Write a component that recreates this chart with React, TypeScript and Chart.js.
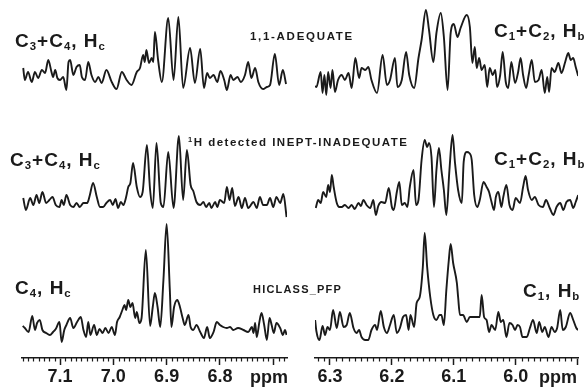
import React, { useEffect, useRef } from 'react';
import { Chart, registerables } from 'chart.js';
Chart.register(...registerables);

const INK = '#1a1a1a';
const FONT = 'Arial, "Liberation Sans", Helvetica, sans-serif';
const CANVAS_H = 392;
const PLOT_BOTTOM = 358;

// ---------- tick labels ----------
const leftTickValues = [7.1, 7.0, 6.9, 6.8, 6.7];
const leftTickLabels = ['7.1', '7.0', '6.9', '6.8', ''];
const rightTickValues = [6.3, 6.2, 6.1, 6.0, 5.9];
const rightTickLabels = ['6.3', '6.2', '6.1', '6.0', ''];

// ---------- Hc region (left panel), 1,1-ADEQUATE ----------
const adeqHcPpm = [7.169,7.166,7.160,7.153,7.147,7.141,7.134,7.128,7.122,7.116,7.113,7.109,7.105,7.100,7.094,7.088,7.084,7.081,7.075,7.069,7.063,7.059,7.053,7.047,7.041,7.034,7.028,7.022,7.013,7.003,6.994,6.984,6.975,6.966,6.956,6.950,6.944,6.941,6.938,6.933,6.928,6.925,6.922,6.916,6.909,6.897,6.887,6.878,6.869,6.856,6.847,6.837,6.830,6.824,6.819,6.812,6.805,6.799,6.792,6.787,6.780,6.775,6.767,6.761,6.753,6.747,6.741,6.734,6.728,6.719,6.712,6.706,6.697,6.689,6.682,6.676];
const adeqHcInt = [9,-3,5,-5,5,-1,7,4,17,5,0,7,-1,-3,0,-13,15,17,2,10,12,0,-3,15,2,-5,0,-6,7,-5,-12,5,-3,-8,5,9,22,15,27,14,19,15,45,17,-5,59,-3,60,-11,29,-6,28,-11,4,-1,2,-5,6,-3,-13,2,-3,0,-5,2,15,-1,9,-5,-12,-10,-8,23,-8,7,-7];

// ---------- Hc region, INEPT-INADEQUATE ----------
const ineptHcPpm = [7.169,7.164,7.156,7.150,7.144,7.139,7.133,7.126,7.120,7.114,7.108,7.101,7.097,7.093,7.088,7.081,7.075,7.069,7.063,7.056,7.049,7.044,7.038,7.031,7.025,7.019,7.013,7.006,7.001,6.996,6.991,6.986,6.981,6.976,6.972,6.968,6.963,6.956,6.950,6.945,6.937,6.931,6.926,6.919,6.911,6.906,6.897,6.887,6.877,6.869,6.862,6.855,6.850,6.844,6.837,6.831,6.826,6.820,6.816,6.809,6.805,6.800,6.792,6.787,6.782,6.777,6.772,6.765,6.759,6.753,6.747,6.737,6.731,6.725,6.719,6.712,6.706,6.700,6.694,6.687,6.681,6.675];
const ineptHcInt = [5,-7,5,-2,8,0,11,0,3,6,-2,-4,3,-2,8,-2,-4,0,-4,0,0,8,20,6,-4,-4,0,3,-2,4,-5,1,-2,6,16,20,40,16,6,11,58,13,-5,60,0,-4,51,-5,67,3,53,18,12,1,-2,1,-4,0,-5,1,-4,3,0,16,3,15,-3,6,-5,5,-5,1,-5,6,-2,-2,5,-4,6,0,9,-14];

// ---------- Hc region, HICLASS_PFP ----------
const hiclassHcPpm = [7.170,7.166,7.159,7.152,7.147,7.143,7.138,7.133,7.126,7.119,7.113,7.108,7.101,7.097,7.092,7.088,7.081,7.075,7.068,7.061,7.056,7.051,7.047,7.043,7.036,7.031,7.026,7.020,7.015,7.009,7.003,6.997,6.993,6.988,6.983,6.979,6.976,6.972,6.968,6.964,6.959,6.956,6.951,6.947,6.939,6.931,6.926,6.922,6.917,6.912,6.906,6.900,6.894,6.891,6.886,6.880,6.875,6.870,6.866,6.859,6.855,6.850,6.844,6.837,6.830,6.824,6.819,6.812,6.806,6.800,6.794,6.787,6.781,6.775,6.766,6.756,6.747,6.740,6.737,6.734,6.731,6.726,6.722,6.717,6.712,6.707,6.703,6.699,6.694,6.687,6.682,6.678,6.675];
const hiclassHcInt = [4,2,-2,14,0,7,10,0,-3,-5,-2,1,8,-12,0,5,12,2,8,13,0,-7,8,-5,5,-5,1,-3,2,-3,3,-5,8,13,20,25,20,30,23,27,12,18,7,12,80,4,23,37,23,3,50,106,40,3,23,30,23,12,5,15,3,0,5,-2,-8,3,-8,-2,8,5,3,2,3,0,2,0,-2,3,-3,7,-7,8,17,5,-10,12,5,-3,7,2,-5,0,-5];

// ---------- Hb region (right panel), 1,1-ADEQUATE ----------
const adeqHbPpm = [6.324,6.322,6.315,6.312,6.309,6.306,6.303,6.299,6.296,6.292,6.287,6.281,6.276,6.270,6.265,6.259,6.253,6.249,6.243,6.238,6.233,6.224,6.215,6.208,6.203,6.195,6.191,6.184,6.177,6.172,6.164,6.157,6.152,6.145,6.140,6.133,6.128,6.121,6.116,6.110,6.105,6.100,6.094,6.089,6.079,6.074,6.070,6.066,6.063,6.059,6.055,6.050,6.046,6.042,6.037,6.033,6.030,6.025,6.021,6.016,6.012,6.007,6.001,5.996,5.992,5.988,5.983,5.979,5.974,5.969,5.963,5.958,5.953,5.949,5.946,5.942,5.937,5.931,5.926,5.920,5.915,5.911,5.907,5.903,5.899];
const adeqHbInt = [-6,-7,8,-13,5,-15,8,-8,10,-12,0,5,0,7,-8,22,2,12,10,13,0,-13,25,-5,0,22,-7,0,28,5,-8,22,40,70,50,18,47,67,43,-10,47,56,43,52,65,53,17,33,12,22,10,15,-7,12,5,10,-7,5,28,-2,-8,18,-3,8,22,5,-8,5,20,-2,0,10,-13,3,-12,12,8,17,7,18,27,20,22,13,4];

// ---------- Hb region, INEPT-INADEQUATE ----------
const ineptHbPpm = [6.323,6.319,6.315,6.311,6.306,6.303,6.300,6.297,6.294,6.289,6.285,6.281,6.276,6.270,6.265,6.260,6.254,6.250,6.246,6.241,6.235,6.230,6.226,6.222,6.217,6.211,6.205,6.200,6.197,6.192,6.188,6.184,6.179,6.175,6.171,6.165,6.161,6.157,6.152,6.147,6.143,6.140,6.136,6.132,6.128,6.124,6.120,6.116,6.112,6.107,6.102,6.098,6.093,6.087,6.084,6.079,6.075,6.071,6.067,6.062,6.058,6.052,6.047,6.043,6.039,6.035,6.032,6.028,6.023,6.020,6.015,6.010,6.005,6.000,5.993,5.988,5.984,5.980,5.974,5.969,5.963,5.956,5.951,5.945,5.939,5.934,5.928,5.923,5.918,5.912,5.907,5.903,5.899];
const ineptHbInt = [-3,5,2,13,8,20,13,30,18,2,-2,-2,0,-3,0,-4,2,-1,5,0,-3,5,-10,-1,3,2,17,-2,-5,13,23,0,2,-2,18,35,0,5,45,65,58,62,48,-2,35,57,35,15,-10,35,70,42,15,2,43,53,52,45,10,-2,5,23,18,13,3,-5,8,13,-2,8,20,0,-5,7,2,18,29,15,5,8,0,-2,5,-3,-10,-2,2,-5,3,5,-3,3,10];

// ---------- Hb region, HICLASS_PFP ----------
const hiclassHbPpm = [6.324,6.322,6.317,6.312,6.308,6.304,6.300,6.295,6.289,6.284,6.278,6.273,6.268,6.262,6.257,6.253,6.249,6.243,6.238,6.233,6.227,6.224,6.218,6.213,6.208,6.203,6.197,6.192,6.187,6.182,6.177,6.173,6.170,6.164,6.160,6.155,6.150,6.147,6.143,6.138,6.133,6.128,6.123,6.120,6.116,6.112,6.108,6.105,6.101,6.095,6.093,6.090,6.085,6.079,6.074,6.070,6.066,6.058,6.055,6.051,6.047,6.043,6.039,6.033,6.028,6.024,6.020,6.015,6.010,6.005,6.001,5.997,5.993,5.989,5.982,5.977,5.972,5.966,5.962,5.957,5.953,5.947,5.942,5.937,5.933,5.928,5.924,5.919,5.912,5.907,5.902,5.899];
const hiclassHbInt = [8,-3,-12,2,-7,1,-2,18,0,16,1,3,15,0,-5,-2,-9,-12,-12,-2,3,-2,17,1,-5,3,13,-5,0,11,13,-2,13,1,25,31,61,95,61,31,13,8,13,13,3,38,68,84,65,45,31,13,13,6,11,11,11,11,33,11,8,-4,3,-2,16,6,8,-9,5,3,-2,3,1,-9,-9,0,8,-5,6,-4,1,-9,1,-4,0,18,-2,1,15,8,0,-2];

type Trace = { ppm: number[]; val: number[]; baseline: number };

type PanelProps = {
  left: number;
  width: number;
  padLeft: number;
  padRight: number;
  xMin: number;
  xMax: number;
  traces: Trace[];
  tickValues: number[];
  tickLabels: string[];
};

function Panel(p: PanelProps) {
  const ref = useRef<HTMLCanvasElement>(null);
  useEffect(() => {
    if (!ref.current) return;
    const minorTicks = {
      id: 'minorTicks',
      afterDraw(chart: any) {
        const s = chart.scales.x;
        const ctx = chart.ctx;
        const b = chart.chartArea.bottom;
        ctx.save();
        ctx.strokeStyle = INK;
        ctx.lineWidth = 1.2;
        for (let k = Math.ceil(s.min * 100 - 1e-6); k <= Math.floor(s.max * 100 + 1e-6); k++) {
          if (k % 10 === 0) continue;
          const px = Math.round(s.getPixelForValue(k / 100)) + 0.5;
          ctx.beginPath();
          ctx.moveTo(px, b);
          ctx.lineTo(px, b + 3.5);
          ctx.stroke();
        }
        ctx.restore();
      },
    };
    const scales: any = {
      x: {
        type: 'linear',
        reverse: true,
        min: p.xMin,
        max: p.xMax,
        afterFit: (s: any) => { s.height = CANVAS_H - PLOT_BOTTOM; },
        afterBuildTicks: (s: any) => { s.ticks = p.tickValues.map((v) => ({ value: v })); },
        ticks: {
          autoSkip: false,
          maxRotation: 0,
          minRotation: 0,
          padding: 1,
          color: INK,
          font: { family: FONT, size: 18, weight: 'bold' },
          callback: (_v: any, i: number) => p.tickLabels[i],
        },
        grid: { drawOnChartArea: false, drawTicks: true, tickLength: 7, tickWidth: 1.5, tickColor: INK },
        border: { display: true, color: INK, width: 1.6 },
      },
    };
    p.traces.forEach((t, i) => {
      scales['y' + i] = { type: 'linear', display: false, min: t.baseline - PLOT_BOTTOM, max: t.baseline };
    });
    const chart = new Chart(ref.current, {
      type: 'line',
      data: {
        datasets: p.traces.map((t, i) => ({
          data: t.ppm.map((x, j) => ({ x, y: t.val[j] })),
          yAxisID: 'y' + i,
          borderColor: INK,
          borderWidth: 1.9,
          pointRadius: 0,
          fill: false,
          cubicInterpolationMode: 'monotone' as const,
        })),
      },
      options: {
        responsive: false,
        maintainAspectRatio: false,
        animation: false,
        devicePixelRatio: 1,
        events: [],
        layout: { padding: { left: p.padLeft, right: p.padRight, top: 0, bottom: 0 } },
        plugins: { legend: { display: false }, tooltip: { enabled: false } },
        scales,
      },
      plugins: [minorTicks],
    } as any);
    return () => chart.destroy();
  }, []);
  return (
    <canvas
      ref={ref}
      width={p.width}
      height={CANVAS_H}
      style={{ position: 'absolute', left: p.left, top: 0, width: p.width, height: CANVAS_H, display: 'block' }}
    />
  );
}

function Txt(props: { x: number; base: number; size: number; bold?: boolean; ls?: number; children: any }) {
  const { x, base, size, bold, ls, children } = props;
  return (
    <div
      style={{
        position: 'absolute',
        left: x,
        top: base - 0.8465 * size,
        fontFamily: FONT,
        fontSize: size,
        fontWeight: bold ? 'bold' : 'normal',
        letterSpacing: ls || 0,
        lineHeight: `${size}px`,
        whiteSpace: 'nowrap',
        color: INK,
      }}
    >
      {children}
    </div>
  );
}

const subStyle: React.CSSProperties = { fontSize: '0.6em', verticalAlign: '-3px', lineHeight: 0 };
const supStyle: React.CSSProperties = { fontSize: '0.65em', verticalAlign: '4px', lineHeight: 0 };

export default function App() {
  const leftTraces: Trace[] = [
    { ppm: adeqHcPpm, val: adeqHcInt, baseline: 77 },
    { ppm: ineptHcPpm, val: ineptHcInt, baseline: 203 },
    { ppm: hiclassHcPpm, val: hiclassHcInt, baseline: 330 },
  ];
  const rightTraces: Trace[] = [
    { ppm: adeqHbPpm, val: adeqHbInt, baseline: 80 },
    { ppm: ineptHbPpm, val: ineptHbInt, baseline: 205 },
    { ppm: hiclassHbPpm, val: hiclassHbInt, baseline: 328 },
  ];
  return (
    <div style={{ position: 'absolute', left: 0, top: 0, width: 587, height: 392, overflow: 'hidden', background: '#fff' }}>
      <Panel left={0} width={300} padLeft={22} padRight={13} xMin={6.6742} xMax={7.1713}
        traces={leftTraces} tickValues={leftTickValues} tickLabels={leftTickLabels} />
      <Panel left={300} width={287} padLeft={15} padRight={9} xMin={5.8993} xMax={6.3242}
        traces={rightTraces} tickValues={rightTickValues} tickLabels={rightTickLabels} />

      <Txt x={15} base={47} size={19} bold ls={1}>C<sub style={subStyle}>3</sub>+C<sub style={subStyle}>4</sub>, H<sub style={subStyle}>c</sub></Txt>
      <Txt x={10} base={166} size={19} bold ls={1}>C<sub style={subStyle}>3</sub>+C<sub style={subStyle}>4</sub>, H<sub style={subStyle}>c</sub></Txt>
      <Txt x={15} base={294} size={19} bold ls={1}>C<sub style={subStyle}>4</sub>, H<sub style={subStyle}>c</sub></Txt>
      <Txt x={494} base={37} size={19} bold ls={1}>C<sub style={subStyle}>1</sub>+C<sub style={subStyle}>2</sub>, H<sub style={subStyle}>b</sub></Txt>
      <Txt x={494} base={165} size={19} bold ls={1}>C<sub style={subStyle}>1</sub>+C<sub style={subStyle}>2</sub>, H<sub style={subStyle}>b</sub></Txt>
      <Txt x={523} base={297} size={19} bold ls={1}>C<sub style={subStyle}>1</sub>, H<sub style={subStyle}>b</sub></Txt>

      <Txt x={250} base={40.5} size={11.5} bold ls={1.7}>1,1-ADEQUATE</Txt>
      <Txt x={188} base={147} size={11.5} bold ls={1.5}><sup style={supStyle}>1</sup>H detected INEPT-INADEQUATE</Txt>
      <Txt x={253} base={293} size={11} bold ls={1.2}>HICLASS_PFP</Txt>

      <Txt x={250} base={383} size={18} bold>ppm</Txt>
      <Txt x={539} base={383} size={18} bold>ppm</Txt>
    </div>
  );
}
